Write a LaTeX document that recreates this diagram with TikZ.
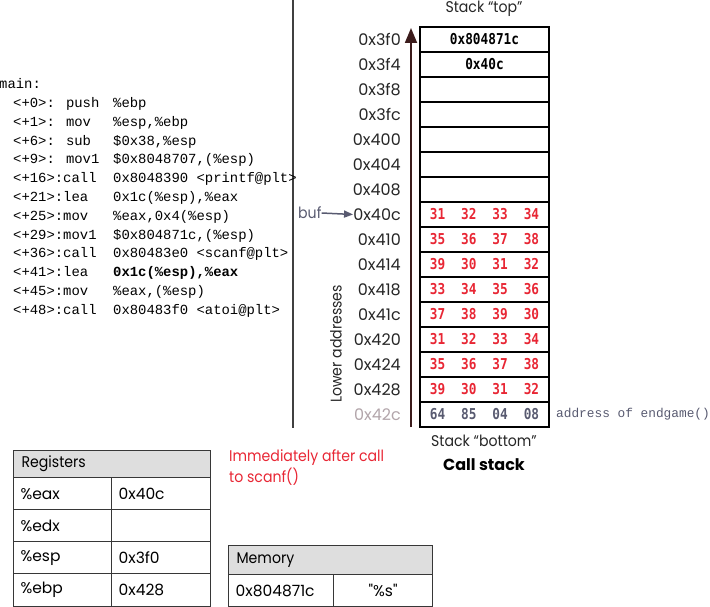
\documentclass[tikz,border=0pt]{standalone}
\usepackage{fontspec}
\usetikzlibrary{arrows.meta}
\newfontfamily\geo{Poppins}
\newfontfamily\geon[FakeStretch=0.91]{Poppins}
\newfontfamily\codef{Liberation Mono}
\newfontfamily\cellf[FakeStretch=0.85]{DejaVu Sans Mono}
\definecolor{redt}{RGB}{232,38,52}
\definecolor{bluegrey}{RGB}{88,90,112}
\definecolor{lightaddr}{RGB}{178,165,170}
\definecolor{hdr}{RGB}{222,222,222}
\definecolor{linec}{RGB}{55,55,55}
\definecolor{arrowc}{RGB}{60,28,28}
\newcommand\fourv[4]{\makebox[31.3pt]{#1}\makebox[31.3pt]{#2}\makebox[31.3pt]{#3}\makebox[31.3pt]{#4}}
\newcommand\cl[2]{\makebox[100pt][l]{#1}#2}
\begin{document}
\begin{tikzpicture}[x=1pt,y=-1pt,
  stackcell/.style={draw=black, line width=1.1pt, minimum width=129pt, minimum height=25pt, inner sep=0pt, font=\cellf\bfseries\fontsize{15}{17}\selectfont},
  redrow/.style={stackcell, text=redt},
  addr/.style={anchor=east, inner sep=0pt, font=\geo\fontsize{16}{19}\selectfont, text=black!85},
  codeline/.style={anchor=base west, inner sep=0pt, font=\codef\fontsize{13.9}{16}\selectfont},
  geolabel/.style={inner sep=0pt, font=\geon\fontsize{15.5}{18}\selectfont},
  thdr/.style={draw=linec, line width=1.2pt, fill=hdr, anchor=north west, inner xsep=8pt, inner ysep=0pt, align=left, font=\geon\fontsize{15.5}{18}\selectfont},
  tcell/.style={draw=linec, line width=1.2pt, anchor=north west, inner xsep=7pt, inner ysep=0pt, align=left, font=\geo\fontsize{15.5}{18}\selectfont}
]
\useasboundingbox (0,0) rectangle (710,607);

% divider
\coordinate (divtop) at (293,0);
\coordinate (divbot) at (293,428);
\draw[line width=1.6pt, black!75] (divtop) -- (divbot);

% code
\node[codeline] (c0) at (-1,89) {main:};
\node[codeline] (c1) at (13,107.7) {\cl{<+0>: push}{\%ebp}};
\node[codeline] (c2) at (13,126.5) {\cl{<+1>: mov}{\%esp,\%ebp}};
\node[codeline] (c3) at (13,145.2) {\cl{<+6>: sub}{\$0x38,\%esp}};
\node[codeline] (c4) at (13,164) {\cl{<+9>: mov1}{\$0x8048707,(\%esp)}};
\node[codeline] (c5) at (13,182.7) {\cl{<+16>:call}{0x8048390 <printf@plt>}};
\node[codeline] (c6) at (13,201.5) {\cl{<+21>:lea}{0x1c(\%esp),\%eax}};
\node[codeline] (c7) at (13,220.2) {\cl{<+25>:mov}{\%eax,0x4(\%esp)}};
\node[codeline] (c8) at (13,239) {\cl{<+29>:mov1}{\$0x804871c,(\%esp)}};
\node[codeline] (c9) at (13,257.7) {\cl{<+36>:call}{0x80483e0 <scanf@plt>}};
\node[codeline] (c10) at (13,276.5) {\cl{<+41>:lea}{\bfseries 0x1c(\%esp),\%eax}};
\node[codeline] (c11) at (13,295.2) {\cl{<+45>:mov}{\%eax,(\%esp)}};
\node[codeline] (c12) at (13,314) {\cl{<+48>:call}{0x80483f0 <atoi@plt>}};

% stack cells
\node[stackcell] (s0) at (484.5,39.5) {0x804871c};
\node[stackcell] (s1) at (484.5,64.5) {0x40c};
\node[stackcell] (s2) at (484.5,89.5) {};
\node[stackcell] (s3) at (484.5,114.5) {};
\node[stackcell] (s4) at (484.5,139.5) {};
\node[stackcell] (s5) at (484.5,164.5) {};
\node[stackcell] (s6) at (484.5,189.5) {};
\node[redrow] (s7) at (484.5,214.5) {\fourv{31}{32}{33}{34}};
\node[redrow] (s8) at (484.5,239.5) {\fourv{35}{36}{37}{38}};
\node[redrow] (s9) at (484.5,264.5) {\fourv{39}{30}{31}{32}};
\node[redrow] (s10) at (484.5,289.5) {\fourv{33}{34}{35}{36}};
\node[redrow] (s11) at (484.5,314.5) {\fourv{37}{38}{39}{30}};
\node[redrow] (s12) at (484.5,339.5) {\fourv{31}{32}{33}{34}};
\node[redrow] (s13) at (484.5,364.5) {\fourv{35}{36}{37}{38}};
\node[redrow] (s14) at (484.5,389.5) {\fourv{39}{30}{31}{32}};
\node[stackcell, text=bluegrey] (s15) at (484.5,414.5) {\fourv{64}{85}{04}{08}};

% addresses
\foreach \i/\a in {0/0x3f0,1/0x3f4,2/0x3f8,3/0x3fc,4/0x400,5/0x404,6/0x408,7/0x40c,8/0x410,9/0x414,10/0x418,11/0x41c,12/0x420,13/0x424,14/0x428}
  \node[addr] (a\i) at (401,{39.5+25*\i}) {\a};
\node[addr, text=lightaddr] (a15) at (401,414.5) {0x42c};

% growth arrow
\coordinate (arrbot) at (411,427);
\coordinate (arrtop) at (411,28);
\draw[line width=1.8pt, arrowc, -{Triangle[length=15pt,width=12pt]}] (arrbot) -- (arrtop);

% lower addresses
\node[geolabel, rotate=90, text=black!85] (lower) at (336,344) {Lower addresses};

% buf
\node[geolabel, text=bluegrey, anchor=west] (buf) at (298,213) {buf};
\draw[bluegrey, line width=1.5pt, -{Triangle[length=9pt,width=7pt]}] (buf.east) -- (a7.west);

% stack titles
\node[geolabel, text=black!85] (stop) at (484,9) {Stack “top”};
\node[geolabel, text=black!85] (sbot) at (484,441) {Stack “bottom”};
\node[geolabel, font=\geo\bfseries\fontsize{16}{18}\selectfont] (cstack) at (484,465) {Call stack};

% endgame
\node[anchor=west, inner sep=0pt, text=bluegrey, font=\codef\fontsize{12.8}{15}\selectfont] (endg) at (556,414.5) {address of endgame()};

% note
\node[geolabel, text=redt, anchor=north west, align=left, font=\geon\fontsize{15.5}{21}\selectfont] (note) at (229,449) {Immediately after call\\to scanf()};

% registers table
\node[thdr, text width=181pt, minimum height=27pt] (rh) at (13,450) {Registers};
\node[tcell, text width=84pt, minimum height=32pt] (r1a) at (13,477) {\%eax};
\node[tcell, text width=85pt, minimum height=32pt] (r1b) at (111,477) {0x40c};
\node[tcell, text width=84pt, minimum height=32pt] (r2a) at (13,509) {\%edx};
\node[tcell, text width=85pt, minimum height=32pt] (r2b) at (111,509) {};
\node[tcell, text width=84pt, minimum height=32pt] (r3a) at (13,541) {\%esp};
\node[tcell, text width=85pt, minimum height=32pt] (r3b) at (111,541) {0x3f0};
\node[tcell, text width=84pt, minimum height=33pt] (r4a) at (13,573) {\%ebp};
\node[tcell, text width=85pt, minimum height=33pt] (r4b) at (111,573) {0x428};

% memory table
\node[thdr, text width=188pt, minimum height=29pt] (mh) at (228,545) {Memory};
\node[tcell, text width=91pt, minimum height=32pt] (m1a) at (228,574) {0x804871c};
\node[tcell, text width=85pt, minimum height=32pt, align=center] (m1b) at (333,574) {"\%s"};
\end{tikzpicture}
\end{document}
